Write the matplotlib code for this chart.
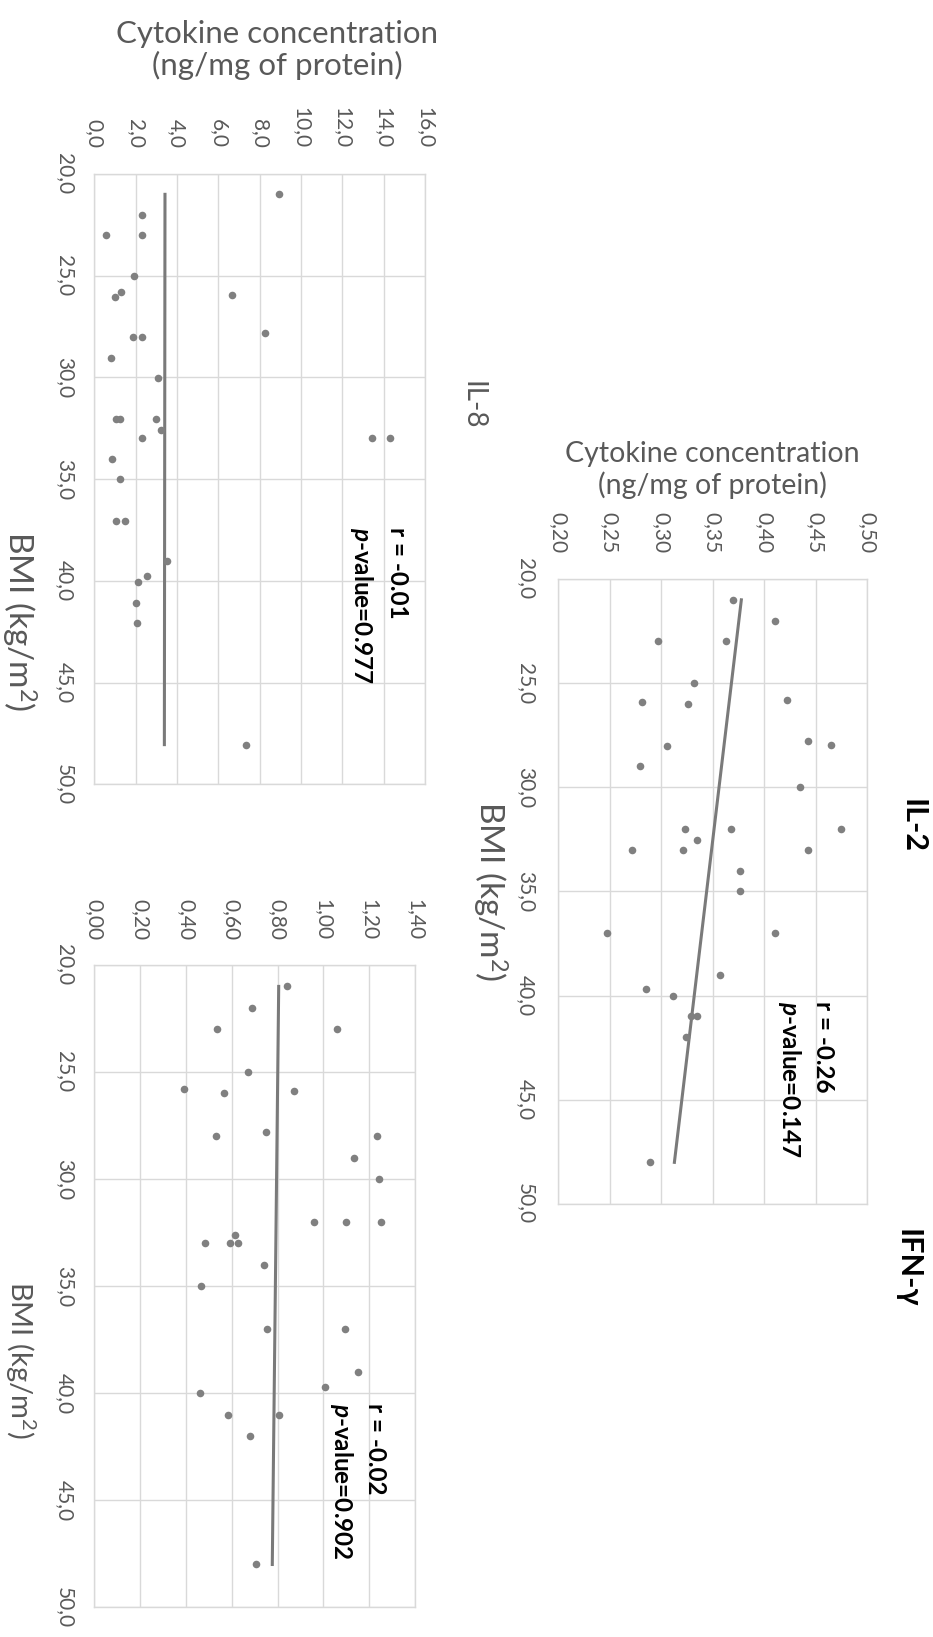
import numpy as np
import matplotlib
matplotlib.use("Agg")
import matplotlib.pyplot as plt
from matplotlib.ticker import FuncFormatter

plt.rcParams['font.family'] = ['Lato', 'DejaVu Sans']
plt.rcParams['mathtext.fontset'] = 'custom'
plt.rcParams['mathtext.rm'] = 'Lato'
plt.rcParams['mathtext.it'] = 'Lato:italic:bold'

# ---- data ----
il2_bmi = [21.0, 22.0, 23.0, 23.0, 25.0, 25.9, 26.0, 25.8, 28.0, 27.8, 27.95,
           29.0, 30.0, 32.0, 32.0, 32.0, 32.55, 33.0, 33.0, 33.0, 34.0, 35.0,
           37.0, 37.0, 39.0, 39.7, 40.0, 41.0, 41.0, 42.0, 48.0]
il2_conc = [0.370, 0.411, 0.297, 0.363, 0.332, 0.282, 0.326, 0.422, 0.306, 0.443, 0.465,
            0.280, 0.435, 0.323, 0.368, 0.475, 0.335, 0.272, 0.321, 0.443, 0.377, 0.377,
            0.248, 0.411, 0.357, 0.285, 0.312, 0.329, 0.335, 0.324, 0.289]
il2_trend = [0.378, 0.313]   # trend line value at min / max BMI

il8_bmi = [21.0, 22.0, 23.0, 23.0, 25.0, 25.8, 26.05, 25.95, 28.0, 28.0, 27.8,
           29.05, 30.05, 32.05, 32.05, 32.05, 32.6, 33.0, 33.0, 33.0, 34.0, 35.0,
           37.05, 37.05, 39.0, 39.75, 40.05, 41.1, 42.05, 48.05]
il8_conc = [8.92, 2.31, 0.55, 2.31, 1.92, 1.29, 0.99, 6.66, 1.86, 2.31, 8.24,
            0.79, 3.10, 1.03, 1.24, 2.99, 3.23, 2.31, 13.42, 14.31, 0.86, 1.23,
            1.03, 1.50, 3.50, 2.55, 2.11, 2.00, 2.05, 7.32]
il8_trend = [3.42, 3.39]

ifn_bmi = [21.0, 22.0, 23.0, 23.0, 25.0, 25.8, 26.0, 25.9, 28.0, 27.8, 28.0,
           29.0, 30.0, 32.0, 32.0, 32.0, 32.6, 33.0, 33.0, 33.0, 34.0, 35.0,
           37.0, 37.0, 39.0, 39.7, 40.0, 41.0, 41.0, 42.0, 48.0]
ifn_conc = [0.840, 0.687, 0.537, 1.060, 0.671, 0.393, 0.568, 0.873, 0.530, 0.750, 1.236,
            1.133, 1.242, 0.959, 1.099, 1.252, 0.614, 0.483, 0.591, 0.629, 0.740, 0.467,
            0.754, 1.095, 1.150, 1.009, 0.463, 0.583, 0.807, 0.680, 0.705]
ifn_trend = [0.805, 0.777]

stats = {"IL-2": ("-0.26", "0.147"), "IL-8": ("-0.01", "0.977"), "IFN": ("-0.02", "0.902")}

W, H = 933, 1637
GRAY = "#595959"
DOT = "#808080"
GRID = "#d9d9d9"

fig = plt.figure(figsize=(W / 100, H / 100), dpi=100)


def box(l, t, r, b):
    return [l / W, 1 - b / H, (r - l) / W, (b - t) / H]


def fx(x):
    return x / W


def fy(y):
    return 1 - y / H


def panel(rect, bmi, conc, trend, lo, hi, step, dec, xpad, ypad):
    ax = fig.add_axes(rect)
    ax.scatter(conc, bmi, s=30, color=DOT, zorder=3, linewidths=0)
    ax.plot(trend, [min(bmi), max(bmi)], color="#7a7a7a", lw=2.2, zorder=2)
    ax.set_xlim(lo, hi)
    ax.set_ylim(50, 20)
    ax.set_xticks(np.arange(lo, hi + step / 2, step))
    ax.set_yticks(np.arange(20, 51, 5))
    ax.xaxis.set_major_formatter(FuncFormatter(lambda v, _: f"{v:.{dec}f}".replace(".", ",")))
    ax.yaxis.set_major_formatter(FuncFormatter(lambda v, _: f"{v:.1f}".replace(".", ",")))
    ax.xaxis.tick_top()
    ax.tick_params(axis="x", length=0, pad=xpad, labelsize=15, labelcolor=GRAY, labelrotation=-90)
    ax.tick_params(axis="y", length=0, pad=ypad, labelsize=15, labelcolor=GRAY, labelrotation=-90)
    plt.setp(ax.get_yticklabels(), va="center")
    ax.grid(True, color=GRID, lw=1.0)
    ax.set_axisbelow(True)
    for s in ax.spines.values():
        s.set_color(GRID)
        s.set_linewidth(1.0)
    return ax


panel(box(558, 579, 867, 1204), il2_bmi, il2_conc, il2_trend, 0.20, 0.50, 0.05, 2, 18.7, 16)
panel(box(94.3, 174, 425, 784.3), il8_bmi, il8_conc, il8_trend, 0.0, 16.0, 2.0, 1, 18.7, 14)
panel(box(94.3, 965, 415, 1607.3), ifn_bmi, ifn_conc, ifn_trend, 0.0, 1.4, 0.2, 2, 18, 14)

# concentration axis titles
fig.text(fx(712), fy(470), "Cytokine concentration\n(ng/mg of protein)", ha="center",
         va="center", fontsize=20.5, color=GRAY, linespacing=1.15)
fig.text(fx(277), fy(50), "Cytokine concentration\n(ng/mg of protein)", ha="center",
         va="center", fontsize=22.5, color=GRAY, linespacing=1.15)

# BMI titles
bmi_lbl = "BMI (kg/m$^2$)"
fig.text(fx(490), fy(891), bmi_lbl, rotation=-90, ha="center", va="center", fontsize=24, color=GRAY)
fig.text(fx(19), fy(621), bmi_lbl, rotation=-90, ha="center", va="center", fontsize=24, color=GRAY)
fig.text(fx(20), fy(1360), bmi_lbl, rotation=-90, ha="center", va="center", fontsize=21, color=GRAY)

# panel titles
fig.text(fx(913), fy(826), "IL-2", rotation=-90, ha="center", va="center",
         fontsize=22, fontweight="bold", color="black")
fig.text(fx(908), fy(1268), "IFN-γ", rotation=-90, ha="center", va="center",
         fontsize=22, fontweight="bold", color="black")
fig.text(fx(473), fy(405), "IL-8", rotation=-90, ha="center", va="center",
         fontsize=20, color=GRAY)

# r / p annotations
ann = [("IL-2", 824, 789, 1001), ("IL-8", 397, 362, 527), ("IFN", 376, 341, 1403)]
for key, xr, xp, top in ann:
    r, p = stats[key]
    fig.text(fx(xr), fy(top), f"r = {r}", rotation=-90, ha="center", va="top",
             fontsize=17.5, fontweight="bold", color="black")
    fig.text(fx(xp), fy(top), r"$\mathit{p}$" + f"-value={p}", rotation=-90, ha="center",
             va="top", fontsize=17.5, fontweight="bold", color="black")

fig.savefig("out.png", dpi=100)
